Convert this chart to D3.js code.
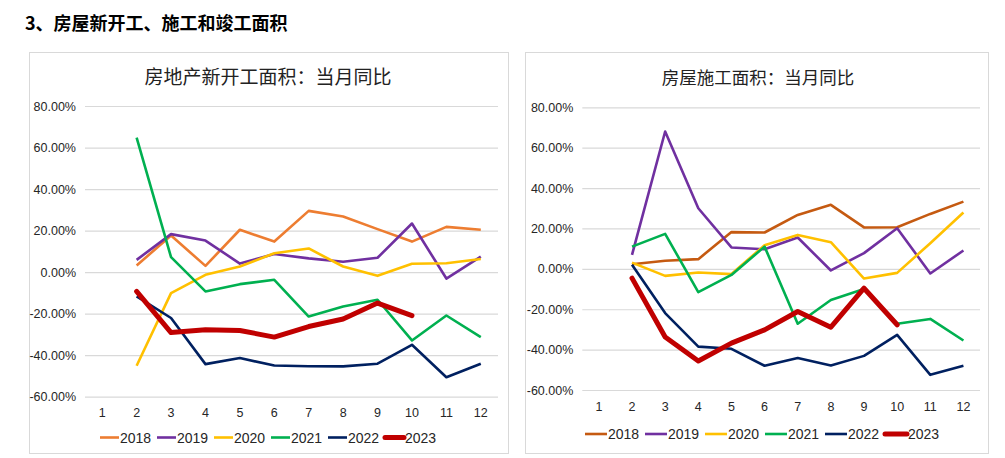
<!DOCTYPE html>
<html><head><meta charset="utf-8">
<script src="https://cdn.jsdelivr.net/npm/d3@7"></script>
<style>
body{margin:0;background:#fff;}
svg text{font-family:"Liberation Sans Narrow","Arial Narrow","Liberation Sans",Arial,sans-serif;}
.cjk{font-family:"Noto Sans CJK SC","Noto Sans",sans-serif !important;}
</style></head>
<body>
<svg id="c" width="1005" height="458"></svg>
<script>
const months = [1,2,3,4,5,6,7,8,9,10,11,12];
const yTicks = [80,60,40,20,0,-20,-40,-60];
const years = ["2018","2019","2020","2021","2022","2023"];

// 房地产新开工面积：当月同比 (%), months 2..12
const startsM = [2,3,4,5,6,7,8,9,10,11,12];
const starts2018 = [3.2,17.6,3.0,20.4,14.7,29.5,26.8,20.7,14.7,21.8,20.4];
const starts2019 = [5.9,18.3,15.2,4.1,8.7,6.6,5.0,6.9,23.4,-3.1,7.5];
const starts2020 = [-45.1,-10.1,-1.3,2.7,9.1,11.4,2.7,-1.8,4.0,4.3,6.3];
const starts2021 = [64.8,7.2,-9.3,-5.8,-3.7,-21.4,-16.6,-13.3,-32.9,-20.9,-31.3];
const starts2022 = [-11.7,-22.1,-44.3,-41.4,-45.0,-45.3,-45.4,-44.1,-35.0,-50.6,-44.1];
const starts2023 = [-9.3,-29.1,-27.8,-28.1,-31.3,-26.2,-22.6,-14.9,-21.0];

// 房屋施工面积：当月同比 (%), months 2..12
const constr2018 = [2.3,4.0,4.8,18.2,18.0,26.7,31.7,20.5,20.6,27.2,33.3];
const constr2019 = [6.9,68.0,30.0,10.6,9.7,15.5,-0.8,7.8,20.1,-2.3,9.1];
const constr2020 = [3.1,-3.5,-1.8,-2.6,11.7,16.8,13.2,-4.8,-2.0,12.7,27.9];
const constr2021 = [11.0,17.3,-11.5,-3.0,11.0,-27.2,-15.4,-10.0,-27.2,-24.8,-35.5];
const constr2022 = [2.0,-21.9,-38.5,-39.6,-48.0,-44.2,-47.9,-43.1,-32.7,-52.5,-48.0];
const constr2023 = [-4.6,-33.8,-45.6,-36.8,-30.2,-21.1,-28.9,-9.6,-27.7];

const leftColors = ["#ED7D31","#7030A0","#FFC000","#00B050","#002060","#C00000"];
const rightColors = ["#C55A11","#7030A0","#FFC000","#00B050","#002060","#C00000"];

const svg = d3.select("#c");

svg.append("text").attr("class","cjk").attr("x",25).attr("y",30)
  .attr("font-size",18).attr("font-weight","bold").attr("fill","#000")
  .text("3、房屋新开工、施工和竣工面积");

function chart(opt){
  const g = svg.append("g");
  g.append("rect").attr("x",opt.box[0]+0.5).attr("y",opt.box[1]+0.5)
    .attr("width",opt.box[2]).attr("height",opt.box[3])
    .attr("fill","#fff").attr("stroke","#d9d9d9").attr("stroke-width",1);
  g.append("text").attr("class","cjk").attr("x",opt.titleX).attr("y",opt.titleY)
    .attr("text-anchor","middle").attr("font-size",opt.titleSize).attr("fill","#222")
    .text(opt.title);
  const xb = d3.scaleBand().domain(months).range([opt.x0,opt.x1]);
  const x = m => xb(m) + xb.bandwidth()/2;
  const y = d3.scaleLinear().domain([80,-60]).range([opt.yTop,opt.yBot]);

  const ya = g.append("g").attr("transform",`translate(${opt.x0},0)`)
    .call(d3.axisLeft(y).tickValues(yTicks).tickSize(-(opt.x1-opt.x0)).tickPadding(9)
      .tickFormat(d=>d.toFixed(2)+"%"));
  ya.select(".domain").remove();
  ya.selectAll(".tick line").attr("stroke","#d9d9d9").attr("stroke-width",1.2);
  ya.selectAll(".tick text").attr("font-size",12.5).attr("fill","#262626");

  const xa = g.append("g").attr("transform",`translate(0,${opt.yBot})`)
    .call(d3.axisBottom(xb).tickSize(0).tickPadding(opt.xPad));
  xa.select(".domain").remove();
  xa.selectAll(".tick text").attr("font-size",12.5).attr("fill","#262626");

  const line = d3.line().x(d=>x(d[0])).y(d=>y(d[1]));
  opt.series.forEach((s,i)=>{
    const pts = s.map((v,j)=>[startsM[j],v]);
    g.append("path").datum(pts).attr("d",line).attr("fill","none")
      .attr("stroke",opt.colors[i]).attr("stroke-width",i===5?5:2.6)
      .attr("stroke-linejoin","round").attr("stroke-linecap",i===5?"round":"butt");
  });

  years.forEach((yr,i)=>{
    const lx = opt.legX + i*opt.legStep;
    g.append("line").attr("x1",lx).attr("x2",lx+opt.legLine)
      .attr("y1",opt.legY).attr("y2",opt.legY)
      .attr("stroke",opt.colors[i]).attr("stroke-width",i===5?5:2.6)
      .attr("stroke-linecap",i===5?"round":"butt");
    g.append("text").attr("x",lx+opt.legLine+1).attr("y",opt.legY+5)
      .attr("font-size",14).attr("fill","#262626").text(yr);
  });
}

chart({box:[29,52,479,401], title:"房地产新开工面积：当月同比", titleX:268, titleY:84, titleSize:19,
  x0:85, x1:498, yTop:106, yBot:396.7, xPad:11,
  series:[starts2018,starts2019,starts2020,starts2021,starts2022,starts2023], colors:leftColors,
  legX:100, legStep:57, legLine:19, legY:437.5});

chart({box:[525,52,463,401], title:"房屋施工面积：当月同比", titleX:758, titleY:84, titleSize:17.5,
  x0:582.3, x1:980, yTop:107.3, yBot:390, xPad:12,
  series:[constr2018,constr2019,constr2020,constr2021,constr2022,constr2023], colors:rightColors,
  legX:585, legStep:60, legLine:22, legY:434});
</script>
</body></html>
